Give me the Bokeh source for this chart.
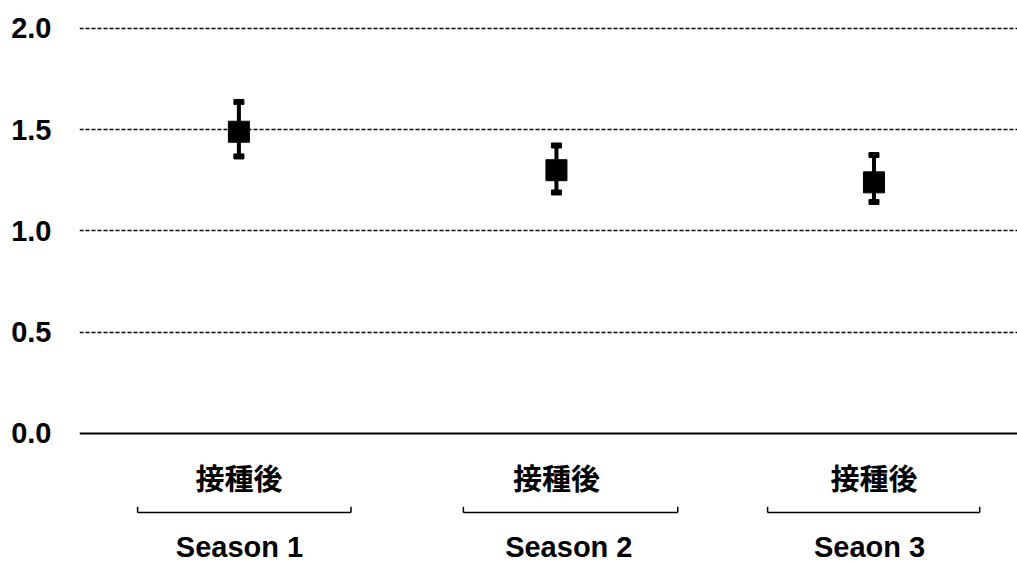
from bokeh.plotting import figure
from bokeh.models import FixedTicker, Range1d, Span, ColumnDataSource
from bokeh.core.properties import value
from bokeh.embed import file_html
from bokeh.resources import INLINE

# ---- data ----
seasons = ["Season 1", "Season 2", "Seaon 3"]
timepoint = ["接種後", "接種後", "接種後"]
mean_vals = [1.49, 1.30, 1.24]
upper_vals = [1.637, 1.422, 1.375]
lower_vals = [1.368, 1.190, 1.143]
y_ticks = [0.0, 0.5, 1.0, 1.5, 2.0]
y_tick_labels = ["0.0", "0.5", "1.0", "1.5", "2.0"]

# ---- layout constants ----
xs = list(range(len(seasons)))
bracket_left_off = [-0.319, -0.293, -0.335]
bracket_right_off = [0.353, 0.382, 0.333]
season_label_off = [0.002, 0.039, -0.014]
Y_CAT = -0.217
Y_BRACKET = -0.390
Y_BRACKET_TOP = -0.362
Y_SEASON = -0.558

p = figure(width=1017, height=562, output_backend="svg", toolbar_location=None,
           x_range=Range1d(-0.502, 2.452), y_range=Range1d(-0.637, 2.138),
           min_border_left=79, min_border_right=0, min_border_top=0, min_border_bottom=0)
p.outline_line_color = None
p.xaxis.visible = False
p.xgrid.visible = False

ya = p.yaxis[0]
ya.ticker = FixedTicker(ticks=y_ticks)
ya.major_label_overrides = {t: l for t, l in zip(y_ticks, y_tick_labels)}
ya.axis_line_color = None
ya.major_tick_line_color = None
ya.minor_tick_line_color = None
ya.major_tick_out = 0
ya.major_tick_in = 0
ya.major_label_standoff = 28
ya.major_label_text_font = "Liberation Sans"
ya.major_label_text_font_style = "bold"
ya.major_label_text_font_size = "29px"
ya.major_label_text_color = "black"

p.ygrid.ticker = FixedTicker(ticks=[t for t in y_ticks if t > 0])
p.ygrid.grid_line_color = "black"
p.ygrid.grid_line_dash = "4 2"
p.ygrid.grid_line_width = 1.5

p.add_layout(Span(location=0, dimension="width", line_color="black", line_width=2))

src = ColumnDataSource(dict(x=xs, m=mean_vals, lo=lower_vals, hi=upper_vals,
                            cat=timepoint, season=seasons,
                            bl=[x + o for x, o in zip(xs, bracket_left_off)],
                            br=[x + o for x, o in zip(xs, bracket_right_off)],
                            sx=[x + o for x, o in zip(xs, season_label_off)]))

# error bars
p.segment(x0="x", y0="lo", x1="x", y1="hi", source=src, line_color="black", line_width=4)
p.rect(x="x", y="hi", width=10, height=5, width_units="screen", height_units="screen",
       source=src, fill_color="black", line_color="black")
p.rect(x="x", y="lo", width=10, height=5, width_units="screen", height_units="screen",
       source=src, fill_color="black", line_color="black")
p.scatter(x="x", y="m", marker="square", size=21, source=src,
          fill_color="black", line_color="black")

# category labels
p.text(x="x", y=Y_CAT, text="cat", source=src, text_align="center", text_baseline="middle",
       text_font=value("Noto Sans CJK JP"), text_font_style="bold",
       text_font_size="29px", text_color="black")

# brackets
p.segment(x0="bl", y0=Y_BRACKET, x1="br", y1=Y_BRACKET, source=src,
          line_color="black", line_width=1.5)
p.segment(x0="bl", y0=Y_BRACKET, x1="bl", y1=Y_BRACKET_TOP, source=src,
          line_color="black", line_width=1.5)
p.segment(x0="br", y0=Y_BRACKET, x1="br", y1=Y_BRACKET_TOP, source=src,
          line_color="black", line_width=1.5)

# season labels
p.text(x="sx", y=Y_SEASON, text="season", source=src, text_align="center",
       text_baseline="middle", text_font=value("Liberation Sans"), text_font_style="bold",
       text_font_size="29px", text_color="black")

open("out.html", "w").write(file_html(p, INLINE))
